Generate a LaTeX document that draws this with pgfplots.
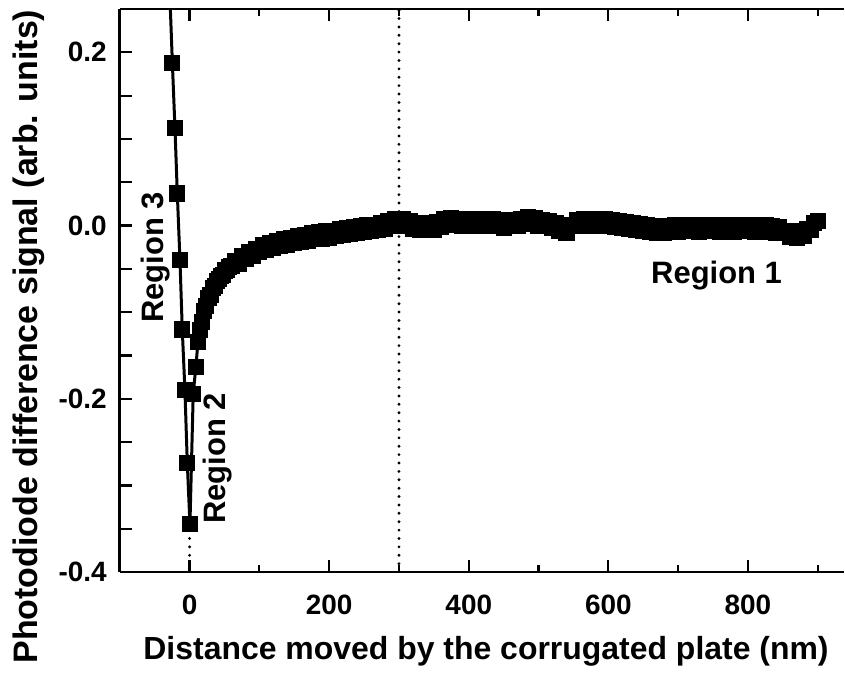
\documentclass[border=0pt]{standalone}
\usepackage{fontspec}
\setmainfont{Liberation Sans}
\usepackage{pgfplots}
\usepackage{pgfplotstable}
\pgfplotsset{compat=1.18}

% region 3: approach side, steep branch
\pgfplotstableread{
x y
-28.2 0.264
-24.7 0.188
-21.0 0.113
-17.6 0.037
-13.8 -0.040
-10.5 -0.120
-6.7 -0.190
-3.3 -0.274
0.5 -0.345
}\regionthree

% regions 2 and 1
\pgfplotstableread{
x y
0.5 -0.345
5.2 -0.194
9 -0.163
12 -0.134
15 -0.121
18 -0.111
21 -0.099
24 -0.093
27 -0.084
30 -0.080
33 -0.072
36 -0.070
39 -0.064
42 -0.062
45 -0.058
48 -0.057
51 -0.052
54 -0.051
57 -0.048
60 -0.047
65 -0.041
70 -0.044
75 -0.035
80 -0.039
85 -0.031
90 -0.035
95 -0.027
100 -0.031
105 -0.023
110 -0.028
115 -0.020
120 -0.026
125 -0.018
130 -0.024
135 -0.016
140 -0.022
145 -0.014
150 -0.020
155 -0.012
160 -0.019
165 -0.011
170 -0.018
175 -0.009
180 -0.016
185 -0.008
190 -0.015
195 -0.006
200 -0.014
205 -0.006
210 -0.012
215 -0.004
220 -0.011
225 -0.003
230 -0.010
235 -0.002
240 -0.009
245 -0.001
250 -0.007
255 0.000
260 -0.006
265 0.001
270 -0.005
275 0.003
280 -0.004
285 0.005
290 -0.001
295 0.007
300 0.002
305 0.008
310 -0.001
315 0.005
320 -0.004
325 0.003
330 -0.005
335 0.002
340 -0.004
345 0.003
350 -0.005
355 0.004
360 -0.002
365 0.007
370 0.001
375 0.009
380 0.002
385 0.008
390 0.000
395 0.008
400 0.001
405 0.007
410 0.000
415 0.007
420 -0.001
425 0.006
430 0.000
435 0.007
440 -0.001
445 0.006
450 -0.003
455 0.005
460 -0.001
465 0.006
470 0.000
475 0.008
480 0.002
485 0.010
490 0.003
495 0.009
500 0.000
505 0.006
510 -0.001
515 0.005
520 -0.003
525 0.003
530 -0.006
535 0.000
540 -0.008
545 0.000
550 0.000
555 0.006
560 0.000
565 0.007
570 0.000
575 0.008
580 0.001
585 0.007
590 0.000
595 0.008
600 0.001
605 0.006
610 -0.002
615 0.005
620 -0.003
625 0.004
630 -0.004
635 0.003
640 -0.005
645 0.002
650 -0.006
655 0.000
660 -0.007
665 -0.001
670 -0.008
675 -0.001
680 -0.008
685 -0.002
690 -0.007
695 0.000
700 -0.007
705 0.000
710 -0.006
715 0.001
720 -0.006
725 0.000
730 -0.007
735 0.000
740 -0.006
745 0.001
750 -0.006
755 0.000
760 -0.007
765 0.001
770 -0.006
775 0.000
780 -0.007
785 0.000
790 -0.006
795 0.001
800 -0.006
805 0.000
810 -0.007
815 -0.001
820 -0.007
825 0.000
830 -0.007
835 -0.001
840 -0.008
845 -0.002
850 -0.009
855 -0.006
860 -0.013
865 -0.006
870 -0.014
875 -0.007
880 -0.012
885 -0.004
890 -0.005
895 0.003
900 0.005
}\regionone

\newcommand{\tickbf}{\fontsize{14}{16}\selectfont\bfseries}
\newcommand{\labbf}{\fontsize{16}{19}\selectfont\bfseries}
\newcommand{\ylabbf}{\fontsize{17}{20}\selectfont\bfseries}
\newcommand{\regbf}{\fontsize{15.5}{18}\selectfont\bfseries}

\begin{document}
\begin{tikzpicture}
\begin{axis}[
  scale only axis,
  width=362.5pt, height=282pt,
  xmin=-100, xmax=937,
  ymin=-0.4, ymax=0.25,
  axis x line=box, axis y line=left,
  y axis line style={-},
  axis line style={line width=1.4pt},
  tick style={line width=1.1pt, black},
  tick align=inside,
  major tick length=6pt, minor tick length=3.5pt,
  xtick={0,200,400,600,800},
  xticklabels={0,200,400,600,800},
  minor xtick={-100,100,300,500,700,900},
  ytick={-0.4,-0.35,-0.3,-0.25,-0.2,-0.15,-0.1,-0.05,0,0.05,0.1,0.15,0.2},
  yticklabels={-0.4,,,,-0.2,,,,0.0,,,,0.2},
  tick label style={font=\tickbf},
  yticklabel style={xshift=-3pt},
  xticklabel style={yshift=-8pt},
  xlabel={Distance moved by the corrugated plate (nm)},
  ylabel={Photodiode difference signal (arb. units)},
  xlabel style={font=\labbf, at={(axis description cs:0.506,-0.140)}, anchor=center},
  ylabel style={font=\ylabbf, at={(axis description cs:-0.1255,0.418)}, anchor=center},
]
\addplot[black, line width=1.6pt, line cap=round, dash pattern=on 0pt off 4.2pt]
  coordinates {(300,-0.4) (300,0.25)};
\addplot[black, line width=1.6pt, line cap=round, dash pattern=on 0pt off 4.2pt]
  coordinates {(0,-0.4) (0,-0.345)};
\addplot[black, line width=1.5pt, mark=square*, mark size=3.3pt,
  mark options={solid, fill=black}] table[x=x, y=y] {\regionthree};
\addplot[black, line width=1.5pt, mark=square*, mark size=3.3pt,
  mark options={solid, fill=black}] table[x=x, y=y] {\regionone};
\node[rotate=90, font=\regbf] at (axis cs:-48.6,-0.037) {Region 3};
\node[rotate=90, font=\regbf] at (axis cs:40,-0.269) {Region 2};
\node[font=\regbf] at (axis cs:755,-0.058) {Region 1};
\end{axis}
\path ([xshift=-60pt,yshift=-47.5pt]current axis.south west)
  rectangle ([yshift=4.5pt]current axis.north east);
\end{tikzpicture}
\end{document}
